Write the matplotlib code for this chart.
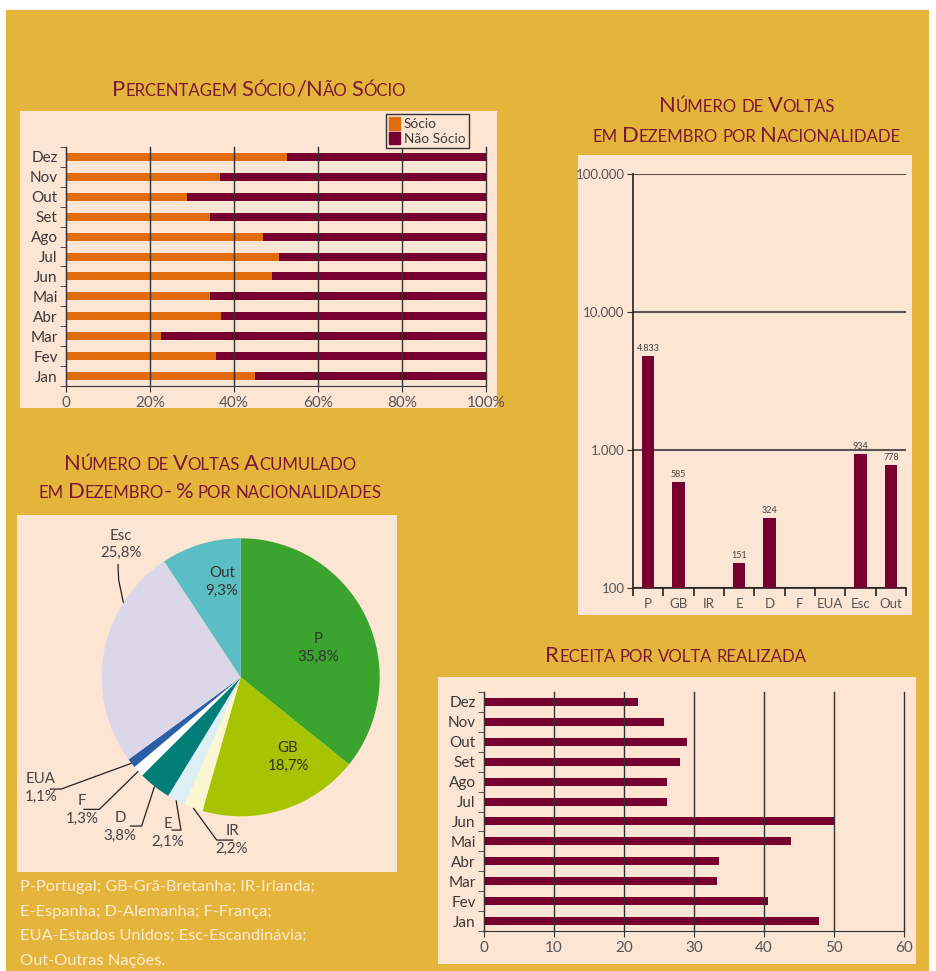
import numpy as np
import matplotlib
matplotlib.use("Agg")
import matplotlib.pyplot as plt
from matplotlib.patches import Rectangle, Patch
from matplotlib.ticker import NullLocator

# ==========================================
# DADOS
# ==========================================
meses = ["Jan", "Fev", "Mar", "Abr", "Mai", "Jun", "Jul", "Ago", "Set", "Out", "Nov", "Dez"]
socio_pct = [45.0, 35.7, 22.6, 37.0, 34.3, 49.0, 50.7, 47.0, 34.3, 28.8, 36.7, 52.6]
receita = [47.9, 40.6, 33.3, 33.6, 43.9, 50.0, 26.2, 26.2, 28.0, 29.0, 25.7, 22.0]

nacoes = ["P", "GB", "IR", "E", "D", "F", "EUA", "Esc", "Out"]
voltas_dez = [4833, 585, np.nan, 151, 324, np.nan, np.nan, 934, 778]
voltas_pct = [35.8, 18.7, 2.2, 2.1, 3.8, 1.3, 1.1, 25.8, 9.3]
pct_labels = ["35,8%", "18,7%", "2,2%", "2,1%", "3,8%", "1,3%", "1,1%", "25,8%", "9,3%"]

legenda_nacoes = [
    "P-Portugal; GB-Grã-Bretanha; IR-Irlanda;",
    "E-Espanha; D-Alemanha; F-França;",
    "EUA-Estados Unidos; Esc-Escandinávia;",
    "Out-Outras Nações.",
]

# ==========================================
# ESTILO
# ==========================================
GOLD = "#E5B43B"
PEACH = "#FDE5D4"
ORANGE = "#E06C0B"
MAROON = "#780031"
TITLE = "#7A1838"
TXT = "#3A3A3A"
FONT = "Lato"
pie_colors = ["#3AA42F", "#A6C400", "#FBF7D2", "#DCEFF5", "#007E77",
              "#FFFFFF", "#2B5EA8", "#DBD7E9", "#5BBEC3"]

plt.rcParams["font.family"] = [FONT, "DejaVu Sans"]

W, H = 936, 971
fig = plt.figure(figsize=(W / 100, H / 100), dpi=100, facecolor="white")


def box(x0, y0, x1, y1):
    """caixa em pixels (origem no topo) -> coordenadas da figura"""
    return [x0 / W, 1 - y1 / H, (x1 - x0) / W, (y1 - y0) / H]


def fundo(x0, y0, x1, y1, color):
    b = box(x0, y0, x1, y1)
    fig.patches.append(Rectangle((b[0], b[1]), b[2], b[3], transform=fig.transFigure,
                                 facecolor=color, edgecolor="none", zorder=-10))


fundo(6, 10, 929, 971, GOLD)
fundo(20, 111, 497, 408, PEACH)
fundo(578, 155, 912, 615, PEACH)
fundo(17, 515, 397, 872, PEACH)
fundo(438, 677, 916, 964, PEACH)

rend = fig.canvas.get_renderer()
BIG, SMALL = 15.8, 12.1


def versalete(x, y, text, big=BIG, small=SMALL, color=TITLE):
    """título em versalete (small caps), centrado em x, linha de base em y (px)"""
    runs = []
    for ch in text:
        kind = "sp" if ch == " " else ("lo" if ch.islower() else "up")
        if runs and runs[-1][0] == kind:
            runs[-1][1] += ch
        else:
            runs.append([kind, ch])

    def largura(s, size):
        t = fig.text(0, 0, s, fontsize=size)
        w = t.get_window_extent(rend).width
        t.remove()
        return w

    sp = largura("x x", small) - largura("xx", small)
    pecas = []
    for kind, s in runs:
        if kind == "sp":
            pecas.append((None, small, sp * len(s)))
        elif kind == "lo":
            pecas.append((s.upper(), small, largura(s.upper(), small)))
        else:
            pecas.append((s, big, largura(s, big)))
    cx = x - sum(p[2] for p in pecas) / 2
    for s, size, w in pecas:
        if s:
            fig.text(cx / W, 1 - y / H, s, fontsize=size, color=color, ha="left", va="baseline")
        cx += w


def barras_meses(ax, xmax, step, labels_fmt):
    y = np.arange(len(meses))
    ax.set_ylim(-0.5, len(meses) - 0.5)
    ax.set_xlim(0, xmax)
    ax.set_yticks(y)
    ax.set_yticklabels(meses)
    ax.set_yticks(np.arange(-0.5, len(meses), 1), minor=True)
    ax.tick_params(axis="y", which="major", length=0, pad=6, labelsize=11, labelcolor=TXT)
    ax.tick_params(axis="y", which="minor", length=4, color="#333")
    ticks = np.arange(0, xmax + 1, step)
    ax.set_xticks(ticks)
    ax.set_xticklabels([labels_fmt(t) for t in ticks])
    ax.tick_params(axis="x", length=4, color="#333", labelsize=11, labelcolor="#555", pad=3)
    ax.xaxis.grid(True, color="#333", lw=1)
    for gl in ax.get_xgridlines():
        gl.set_clip_on(False)
    ax.set_axisbelow(False)
    for s in ("top", "right"):
        ax.spines[s].set_visible(False)
    for s in ("left", "bottom"):
        ax.spines[s].set_color("#333")
    ax.set_facecolor("none")


# ==========================================
# 1. PERCENTAGEM SÓCIO / NÃO SÓCIO
# ==========================================
ax1 = fig.add_axes(box(66, 147, 486, 386))
yy = np.arange(len(meses))
socio = np.array(socio_pct)
ax1.barh(yy, socio, height=0.4, color=ORANGE, zorder=1)
ax1.barh(yy, 100 - socio, left=socio, height=0.4, color=MAROON, zorder=1)
barras_meses(ax1, 100, 20, lambda t: "0" if t == 0 else f"{t:d}%")
leg = fig.legend(handles=[Patch(color=ORANGE, label="Sócio"), Patch(color=MAROON, label="Não Sócio")],
                 loc="upper left", bbox_to_anchor=(386 / W, 1 - 114 / H), fontsize=9.8,
                 frameon=True, fancybox=False, edgecolor="#333", facecolor=PEACH, framealpha=1,
                 handlelength=0.8, handleheight=1.0, handletextpad=0.25, labelspacing=0.15,
                 borderpad=0.25, borderaxespad=0)
for t in leg.get_texts():
    t.set_color(TXT)
leg.get_frame().set_linewidth(1)
versalete(259, 96, "Percentagem Sócio/Não Sócio")

# ==========================================
# 2. NÚMERO DE VOLTAS EM DEZEMBRO (log)
# ==========================================
ax2 = fig.add_axes(box(633, 174, 906, 588))
xx = np.arange(len(nacoes))
ax2.set_yscale("log")
ax2.bar(xx, voltas_dez, width=0.4, color=MAROON, zorder=3)
for i, v in enumerate(voltas_dez):
    if not np.isnan(v):
        ax2.text(i, v * 1.05, f"{int(v):,}".replace(",", "."), ha="center", va="bottom",
                 fontsize=6.5, color="#444", zorder=4)
ax2.set_ylim(100, 100000)
ax2.set_xlim(-0.5, len(nacoes) - 0.5)
ax2.set_yticks([100, 1000, 10000, 100000])
ax2.set_yticklabels(["100", "1.000", "10.000", "100.000"])
ax2.yaxis.set_minor_locator(NullLocator())
ax2.yaxis.grid(True, color="#555", lw=1.5)
ax2.tick_params(axis="y", length=4, color="#333", labelsize=9.5, labelcolor="#555", pad=2)
ax2.set_xticks(xx)
ax2.set_xticklabels(nacoes)
ax2.set_xticks(np.arange(-0.5, len(nacoes), 1), minor=True)
ax2.tick_params(axis="x", which="major", length=0, pad=7, labelsize=9.5, labelcolor="#555")
ax2.tick_params(axis="x", which="minor", length=6, width=1.2, color="#222")
for s in ("top", "right"):
    ax2.spines[s].set_visible(False)
ax2.spines["left"].set_color("#222")
ax2.spines["bottom"].set_color("#222")
ax2.spines["left"].set_linewidth(1.2)
ax2.spines["bottom"].set_linewidth(1.2)
ax2.set_facecolor("none")
versalete(747, 112, "Número de Voltas")
versalete(747, 142, "em Dezembro por Nacionalidade")

# ==========================================
# 3. PIE - % POR NACIONALIDADES
# ==========================================
cx_px, cy_px, r_px = 240.7, 677.3, 139.0
ax3 = fig.add_axes(box(17, 515, 397, 872))
ax3.pie(voltas_pct, colors=pie_colors, startangle=90, counterclock=False,
        radius=1, wedgeprops=dict(linewidth=0))
ax3.set_xlim((17 - cx_px) / r_px, (397 - cx_px) / r_px)
ax3.set_ylim(-(872 - cy_px) / r_px, (cy_px - 515) / r_px)

fr = np.array(voltas_pct) / np.sum(voltas_pct)
cum = np.cumsum(fr)

# posicao dos rotulos: (texto), e para os externos, cotovelo e fim da linha
rot_int = {"P": (0.557, 0.211), "GB": (0.340, -0.574), "Out": (-0.135, 0.686)}
rot_ext = {
    "Esc": ((-0.861, 0.955), 0.74, [(-0.878, 0.700), (-0.883, 0.815)]),
    "EUA": ((-1.437, -0.795), 0.5, [(-1.292, -0.804), (-1.372, -0.804)]),
    "F": ((-1.142, -0.953), 0.5, [(-1.017, -0.950), (-1.132, -0.950)]),
    "D": ((-0.868, -1.076), 0.5, [(-0.713, -1.070), (-0.797, -1.070)]),
    "E": ((-0.523, -1.119), 0.5, [(-0.430, -1.099), (-0.497, -1.099)]),
    "IR": ((-0.063, -1.169), 0.5, [(-0.173, -1.171), (-0.053, -1.171)]),
}
for i, nome in enumerate(nacoes):
    txt = f"{nome}\n{pct_labels[i]}"
    if nome in rot_int:
        ax3.text(*rot_int[nome], txt, ha="center", va="center", fontsize=10.8,
                 color="#333", linespacing=1.3)
    else:
        pos, frac, path = rot_ext[nome]
        ang = np.deg2rad(90 - 360 * (cum[i] - fr[i] * (1 - frac)))
        pts = [(np.cos(ang), np.sin(ang))] + path
        ax3.plot([p[0] for p in pts], [p[1] for p in pts], color="#222", lw=0.9,
                 solid_capstyle="butt", clip_on=False)
        ax3.text(*pos, txt, ha="center", va="center", fontsize=10.8, color="#444",
                 linespacing=1.3)
versalete(210, 470, "Número de Voltas Acumulado")
versalete(210, 498, "em Dezembro- % por nacionalidades")

for k, linha in enumerate(legenda_nacoes):
    fig.text(20 / W, 1 - (887 + 24.5 * k) / H, linha, fontsize=11.8, color="#FBEBD3",
             ha="left", va="center")

# ==========================================
# 4. RECEITA POR VOLTA REALIZADA
# ==========================================
ax4 = fig.add_axes(box(484, 692, 904, 931))
ax4.barh(yy, receita, height=0.4, color=MAROON, zorder=1)
barras_meses(ax4, 60, 10, lambda t: f"{t:d}")
versalete(676, 662, "Receita por volta realizada")

fig.savefig("out.png", dpi=100, facecolor=fig.get_facecolor())
